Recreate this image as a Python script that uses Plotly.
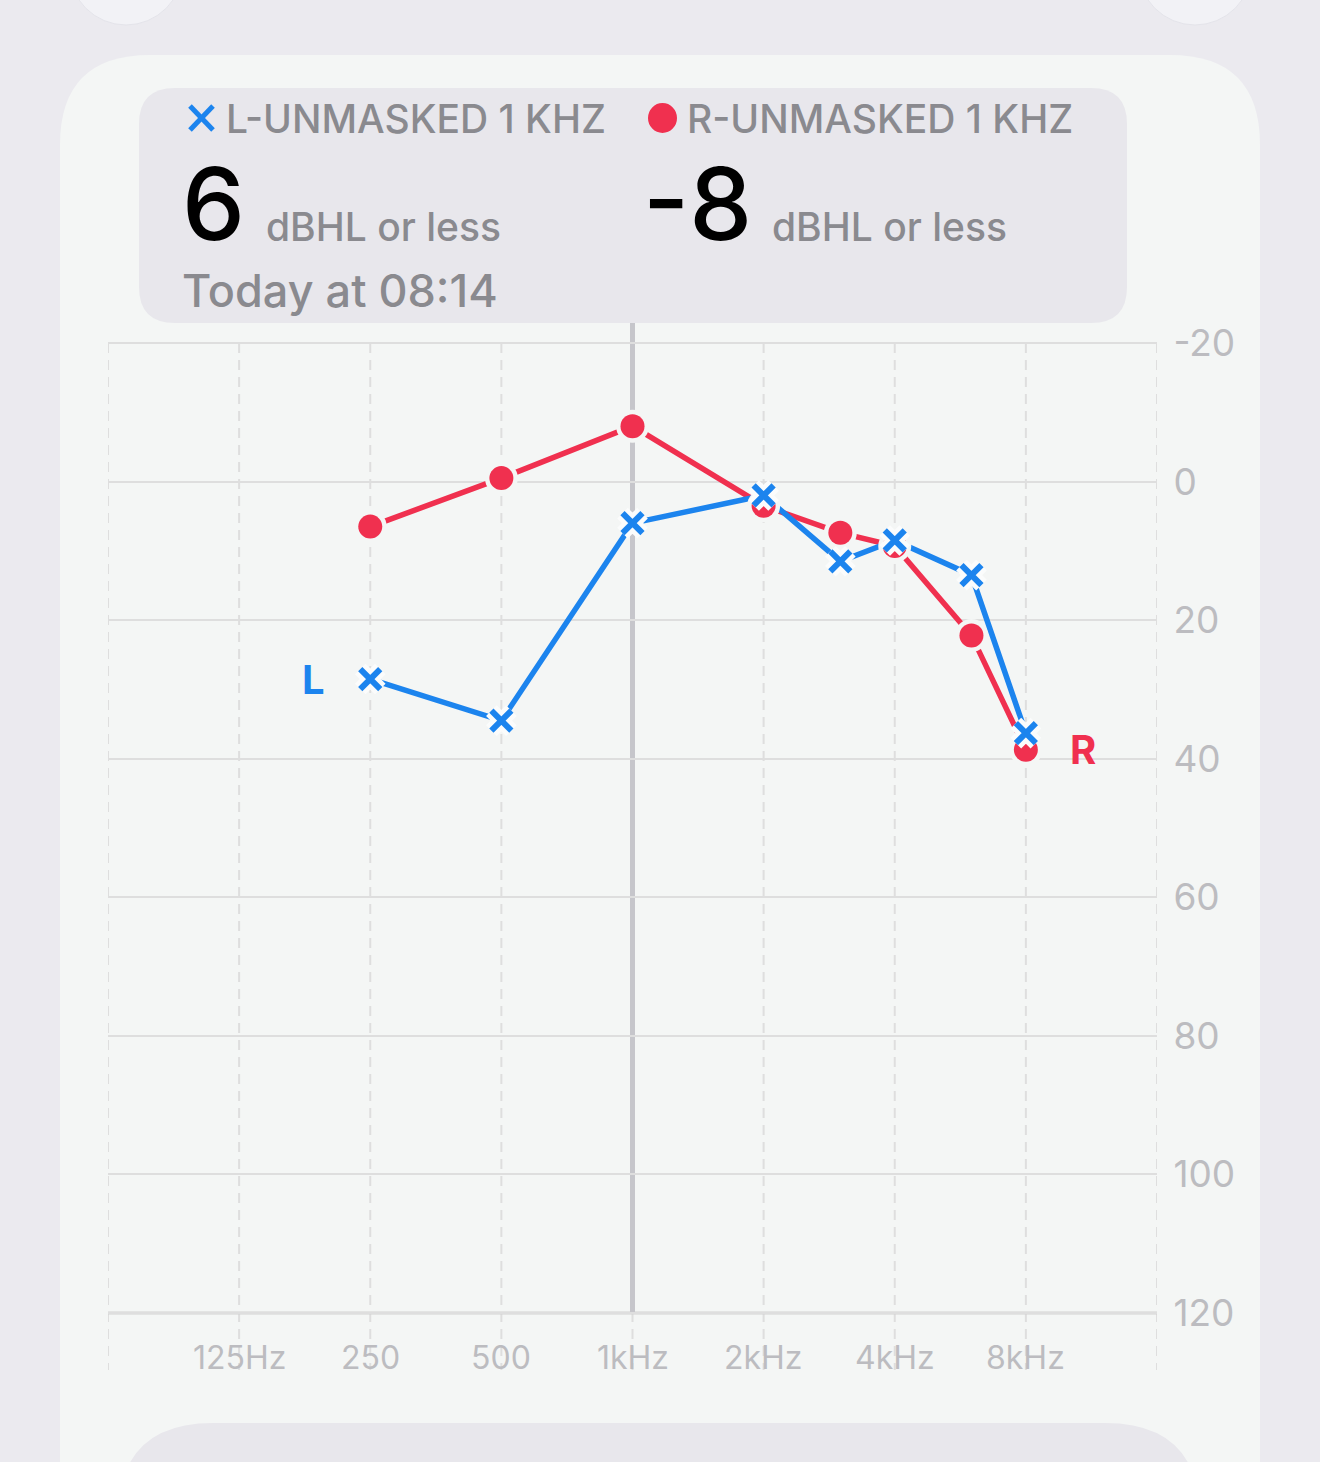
import math
import plotly.graph_objects as go

# ---------------- data ----------------
freqs = [250, 500, 1000, 2000, 3000, 4000, 6000, 8000]
left_db = [28.5, 34.5, 6, 2, 11.5, 8.5, 13.5, 36.3]
right_db = [6.5, -0.5, -8, 3.5, 7.4, 9.3, 22.2, 38.7]
grid_freqs = [62.5, 125, 250, 500, 1000, 2000, 4000, 8000, 16000]
x_tick_freqs = [125, 250, 500, 1000, 2000, 4000, 8000]
x_tick_labels = ["125Hz", "250", "500", "1kHz", "2kHz", "4kHz", "8kHz"]
y_ticks = [-20, 0, 20, 40, 60, 80, 100, 120]
selected_freq = 1000
left_title = "L-UNMASKED 1 KHZ"
right_title = "R-UNMASKED 1 KHZ"
left_value = "6"
right_value = "-8"
unit_text = "dBHL or less"
timestamp = "Today at 08:14"

# ---------------- style ----------------
W, H = 1320, 1462
ML, MR, MT, MB = 108, 163, 323, 92
PW, PH = W - ML - MR, H - MT - MB
BLUE = "#1c84ee"
RED = "#f0304f"
GRAY_TXT = "#8a8a8f"
TICK_TXT = "#bcbcc0"
PAGE = "#ebeaef"
CARD = "#f4f6f5"
HEADER = "#e8e7ec"
HALO = "#fbfcfc"
FONT = "Inter"

Y_TOP, Y_BOT = -22.89, 128.23


def px(x):
    return (x - ML) / PW


def py(y):
    return (H - MB - y) / PH


def rrect(x0, y0, x1, y1, r):
    pts = [
        ("M", [(x0 + r, y0)]),
        ("L", [(x1 - r, y0)]),
        ("Q", [(x1, y0), (x1, y0 + r)]),
        ("L", [(x1, y1 - r)]),
        ("Q", [(x1, y1), (x1 - r, y1)]),
        ("L", [(x0 + r, y1)]),
        ("Q", [(x0, y1), (x0, y1 - r)]),
        ("L", [(x0, y0 + r)]),
        ("Q", [(x0, y0), (x0 + r, y0)]),
    ]
    s = ""
    for cmd, ps in pts:
        s += cmd + " ".join(f"{px(a):.5f},{py(b):.5f}" for a, b in ps)
    return s + "Z"


shapes = []
# page decorations
for cx in (126, 1195):
    shapes.append(dict(type="circle", xref="paper", yref="paper", layer="below",
                       x0=px(cx - 57), x1=px(cx + 57), y0=py(-90), y1=py(25),
                       fillcolor="#f2f2f6", line=dict(color="#e4e4ea", width=1)))
shapes.append(dict(type="path", xref="paper", yref="paper", layer="below",
                   path=rrect(60, 55, 1260, 1560, 90), fillcolor=CARD, line=dict(width=0)))
shapes.append(dict(type="path", xref="paper", yref="paper", layer="below",
                   path=rrect(118, 1423, 1200, 1600, 95), fillcolor=HEADER, line=dict(width=0)))
shapes.append(dict(type="path", xref="paper", yref="paper", layer="below",
                   path=rrect(139, 88, 1127, 323, 36), fillcolor=HEADER, line=dict(width=0)))

# dashed vertical grid (shapes on log axes take raw data values)
for f in grid_freqs:
    shapes.append(dict(type="line", xref="x", yref="y", layer="below",
                       x0=f, x1=f, y0=-20, y1=Y_BOT,
                       line=dict(color="#dedede", width=2, dash="10px,7px")))
# bottom baseline emphasis
shapes.append(dict(type="line", xref="x", yref="y", layer="below",
                   x0=grid_freqs[0], x1=grid_freqs[-1], y0=120, y1=120,
                   line=dict(color="#d2d2d2", width=3)))
# selection line
shapes.append(dict(type="line", xref="x", yref="y", layer="below",
                   x0=selected_freq, x1=selected_freq, y0=Y_TOP, y1=120,
                   line=dict(color="#c6c6cb", width=5)))

# header legend symbols
shapes.append(dict(type="line", xref="paper", yref="paper", x0=px(190), y0=py(106), x1=px(213), y1=py(130),
                   line=dict(color=BLUE, width=5)))
shapes.append(dict(type="line", xref="paper", yref="paper", x0=px(190), y0=py(130), x1=px(213), y1=py(106),
                   line=dict(color=BLUE, width=5)))
shapes.append(dict(type="circle", xref="paper", yref="paper", x0=px(648), x1=px(677), y0=py(103), y1=py(133),
                   fillcolor=RED, line=dict(width=0)))

fig = go.Figure()
lx = [math.log10(f) for f in freqs]
fig.add_trace(go.Scatter(x=freqs, y=right_db, mode="lines", line=dict(color=RED, width=5.5), hoverinfo="skip"))
fig.add_trace(go.Scatter(x=freqs, y=left_db, mode="lines", line=dict(color=BLUE, width=5.5), hoverinfo="skip"))
fig.add_trace(go.Scatter(x=freqs, y=right_db, mode="markers", marker=dict(symbol="circle", size=33, color=CARD),
                         hoverinfo="skip"))
fig.add_trace(go.Scatter(x=freqs, y=right_db, mode="markers", marker=dict(symbol="circle", size=24, color=RED),
                         hoverinfo="skip"))
fig.add_trace(go.Scatter(x=freqs, y=left_db, mode="markers",
                         marker=dict(symbol="x-thin", size=20, line=dict(color=HALO, width=15)), hoverinfo="skip"))
fig.add_trace(go.Scatter(x=freqs, y=left_db, mode="markers",
                         marker=dict(symbol="x-thin", size=20, line=dict(color=BLUE, width=6)), hoverinfo="skip"))

ann = []
ann.append(dict(text="<b>L</b>", x=lx[0], y=left_db[0], xref="x", yref="y", xshift=-57, showarrow=False,
                font=dict(family=FONT, size=40, color=BLUE)))
ann.append(dict(text="<b>R</b>", x=lx[-1], y=right_db[-1], xref="x", yref="y", xshift=57, showarrow=False,
                font=dict(family=FONT, size=40, color=RED)))
for f, t in zip(x_tick_freqs, x_tick_labels):
    ann.append(dict(text=t, x=math.log10(f), y=py(1357), xref="x", yref="paper", showarrow=False,
                    xanchor="center", yanchor="middle", font=dict(family=FONT, size=32, color=TICK_TXT)))


def hdr(text, x, y, size, color, weight=500):
    ann.append(dict(text=text, x=px(x), y=py(y), xref="paper", yref="paper", showarrow=False,
                    xanchor="left", yanchor="middle", font=dict(family=FONT, size=size, color=color, weight=weight)))


hdr(left_title, 224, 119, 39, GRAY_TXT, 550)
hdr(right_title, 685, 119, 39, GRAY_TXT, 550)
hdr(left_value, 180, 203, 100, "#000000", 500)
hdr(right_value, 641, 203, 100, "#000000", 500)
hdr(unit_text, 264, 226, 39, GRAY_TXT, 550)
hdr(unit_text, 770, 226, 39, GRAY_TXT, 550)
hdr(timestamp, 180, 290, 45, GRAY_TXT, 550)

fig.update_layout(
    width=W, height=H,
    margin=dict(l=ML, r=MR, t=MT, b=MB),
    paper_bgcolor=PAGE, plot_bgcolor="rgba(0,0,0,0)",
    showlegend=False, hovermode=False,
    shapes=shapes, annotations=ann,
    xaxis=dict(type="log", range=[math.log10(grid_freqs[0]), math.log10(grid_freqs[-1])],
               showgrid=False, zeroline=False, showline=False, showticklabels=False, ticks=""),
    yaxis=dict(range=[Y_BOT, Y_TOP], side="right", tickvals=y_ticks, ticktext=[str(v) for v in y_ticks],
               showgrid=True, gridcolor="#dedede", gridwidth=2, zeroline=False, showline=False,
               ticks="outside", ticklen=8, tickcolor="rgba(0,0,0,0)",
               tickfont=dict(family=FONT, size=37, color=TICK_TXT)),
)

fig.write_html("out.html", config={"displayModeBar": False, "staticPlot": True},
               post_script="document.body.style.margin='0';document.body.style.overflow='hidden';")
